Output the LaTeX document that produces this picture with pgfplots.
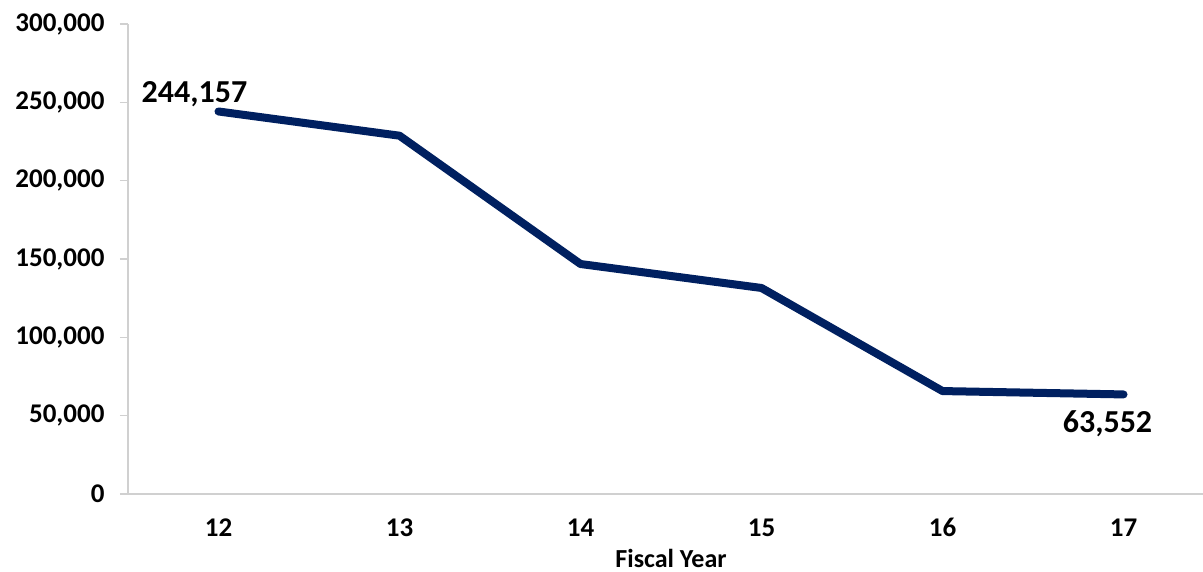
\documentclass[border=0pt]{standalone}
\usepackage{fontspec}
\setmainfont{Carlito}
\usepackage{pgfplots}
\pgfplotsset{compat=1.18}
\definecolor{navy}{HTML}{002060}
\definecolor{axisgray}{HTML}{D0D0D0}
\begin{document}
\begin{tikzpicture}[x=1pt,y=1pt]
\path[use as bounding box] (0,0) rectangle (1203,572);
\begin{axis}[
    at={(128pt,78pt)}, anchor=south west,
    scale only axis,
    width=1086pt, height=470pt,
    xmin=-0.5, xmax=5.5,
    ymin=0, ymax=300000,
    axis x line*=bottom, axis y line*=left,
    axis line style={axisgray, line width=1.2pt},
    xtick={0,...,5}, xticklabels={12,13,14,15,16,17},
    xtick style={draw=none},
    ytick={0,50000,...,300000},
    ytick style={axisgray, line width=1.2pt},
    tick align=outside, major tick length=8pt,
    scaled y ticks=false,
    yticklabel style={xshift=-12pt, /pgf/number format/.cd, fixed, precision=0, 1000 sep={,}, assume math mode=true},
    xticklabel style={yshift=-13pt},
    ticklabel style={font=\fontsize{27}{30}\selectfont\bfseries},
    xlabel={Fiscal Year},
    xlabel style={font=\fontsize{26}{29}\selectfont\bfseries, yshift=-5pt},
    clip=false,
]
\addplot[navy, line width=8pt, line cap=round, line join=round, mark=none] coordinates {
    (0,244157) (1,228700) (2,146800) (3,131500) (4,65700) (5,63552)
};
\addplot[draw=none, mark=none, point meta=y,
    nodes near coords={\pgfmathprintnumber[fixed, precision=0, 1000 sep={,}, assume math mode=true]{\pgfplotspointmeta}},
    nodes near coords style={font=\fontsize{32}{35}\selectfont\bfseries, anchor=center, xshift=-24pt, yshift=17pt}]
    coordinates {(0,244157)};
\addplot[draw=none, mark=none, point meta=y,
    nodes near coords={\pgfmathprintnumber[fixed, precision=0, 1000 sep={,}, assume math mode=true]{\pgfplotspointmeta}},
    nodes near coords style={font=\fontsize{32}{35}\selectfont\bfseries, anchor=center, xshift=-16pt, yshift=-29pt}]
    coordinates {(5,63552)};
\end{axis}
\end{tikzpicture}
\end{document}
